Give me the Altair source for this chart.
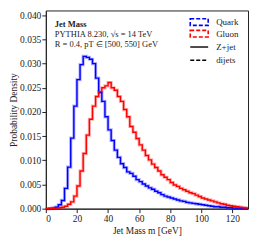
import altair as alt
import pandas as pd

bin_starts = list(range(0, 130, 2))
bin_end = 130

quark = [0.0, 0.00003, 0.0001, 0.0003, 0.0008, 0.0017, 0.0042, 0.0086, 0.0146, 0.0212,
         0.0267, 0.0298, 0.0315, 0.0313, 0.0309, 0.0300, 0.0270, 0.0240, 0.0222, 0.0190,
         0.0163, 0.0141, 0.0121, 0.0106, 0.0093, 0.0085, 0.0076, 0.0073, 0.0067, 0.0060,
         0.0056, 0.0051, 0.0047, 0.0043, 0.0040, 0.0036, 0.0033, 0.0029, 0.0026, 0.0024,
         0.0022, 0.0020, 0.0018, 0.0016, 0.0015, 0.0013, 0.0012, 0.0011, 0.0010, 0.0009,
         0.0008, 0.0007, 0.0006, 0.0005, 0.0004, 0.0004, 0.0003, 0.0003, 0.0002, 0.0002,
         0.0001, 0.0001, 0.0001, 0.00005, 0.00003]

gluon = [0.0, 0.00002, 0.00005, 0.0001, 0.0002, 0.0003, 0.0005, 0.0009, 0.0014, 0.0026,
         0.0047, 0.0078, 0.0114, 0.0152, 0.0185, 0.0212, 0.0232, 0.0242, 0.0250, 0.0254,
         0.0261, 0.0250, 0.0245, 0.0232, 0.0222, 0.0205, 0.0190, 0.0170, 0.0158, 0.0145,
         0.0132, 0.0121, 0.0110, 0.0101, 0.0092, 0.0085, 0.0078, 0.0070, 0.0065, 0.0060,
         0.0054, 0.0049, 0.0046, 0.0042, 0.0039, 0.0036, 0.0033, 0.0031, 0.0028, 0.0025,
         0.0022, 0.0020, 0.0018, 0.0016, 0.0014, 0.0012, 0.0010, 0.0009, 0.0007, 0.0006,
         0.0005, 0.0004, 0.0003, 0.0002, 0.0001]

series_names = ["Quark", "Gluon"]
series_colors = ["#0000ff", "#ff0000"]
legend_labels = ["Quark", "Gluon", "Z+jet", "dijets"]

rows = []
for name, vals in zip(series_names, [quark, gluon]):
    for x, v in zip(bin_starts, vals):
        rows.append({"series": name, "m": x, "density": v})
    rows.append({"series": name, "m": bin_end, "density": vals[-1]})
df = pd.DataFrame(rows)

FONT = "Liberation Serif"
W, H = 203, 199

color = alt.Color("series:N", scale=alt.Scale(domain=series_names, range=series_colors), legend=None)
xenc = alt.X("m:Q", scale=alt.Scale(domain=[0, 130], nice=False),
             axis=alt.Axis(values=[0, 20, 40, 60, 80, 100, 120], title="Jet Mass m [GeV]"))
yenc = alt.Y("density:Q", scale=alt.Scale(domain=[0, 0.041], nice=False),
             axis=alt.Axis(values=[0, 0.005, 0.01, 0.015, 0.02, 0.025, 0.03, 0.035, 0.04],
                           format=".3f", title="Probability Density"))

base = alt.Chart(df)
halo = base.mark_line(interpolate="step-after", strokeWidth=3.2, opacity=0.3).encode(
    x=xenc, y=yenc, color=color, detail="series:N")
main = base.mark_line(interpolate="step-after", strokeWidth=1.4).encode(
    x=xenc, y=yenc, color=color, detail="series:N")

def txt(s, x, y, size=8.5, weight="normal", align="left", style="normal"):
    return alt.Chart(pd.DataFrame({"t": [s]})).mark_text(
        align=align, baseline="middle", font=FONT, fontSize=size, fontWeight=weight,
        fontStyle=style, color="#222").encode(x=alt.value(x), y=alt.value(y), text="t:N")

ann = [
    txt("Jet Mass", 9, 13.5, size=8.5, weight="bold"),
    txt("PYTHIA 8.230, √s = 14 TeV", 9, 24, size=8.5),
    txt("R = 0.4, pT ∈ [500, 550] GeV", 9, 34, size=8.5),
]

leg_rows = [11.7, 23.3, 36.7, 50.0]
lx0, lx1, ltx = 145, 163, 171
boxes = []
for i, c in enumerate(series_colors):
    y = leg_rows[i]
    boxes.append(alt.Chart(pd.DataFrame({"k": [i]})).mark_rect(
        fill=None, fillOpacity=0, stroke=c, strokeWidth=1.6, strokeDash=[4, 2]).encode(
        x=alt.value(lx0), x2=alt.value(lx1), y=alt.value(y - 3.3), y2=alt.value(y + 3.3)))
rules = [
    alt.Chart(pd.DataFrame({"k": [0]})).mark_rule(color="black", strokeWidth=1.4).encode(
        x=alt.value(lx0), x2=alt.value(lx1), y=alt.value(leg_rows[2])),
    alt.Chart(pd.DataFrame({"k": [1]})).mark_rule(color="black", strokeWidth=1.4, strokeDash=[4, 2]).encode(
        x=alt.value(lx0), x2=alt.value(lx1), y=alt.value(leg_rows[3])),
]
leg_text = [txt(lab, ltx, leg_rows[i], size=9) for i, lab in enumerate(legend_labels)]

chart = alt.layer(halo, main, *ann, *boxes, *rules, *leg_text).properties(
    width=W, height=H,
    autosize=alt.AutoSizeParams(type="none"),
    padding={"left": 38, "top": 2, "right": 4, "bottom": 28},
).configure_view(stroke="#222", strokeWidth=1).configure_axis(
    grid=False, labelFont=FONT, titleFont=FONT, labelFontSize=9.5, titleFontSize=9.5,
    titleFontWeight="normal", labelColor="#222", titleColor="#222",
    domainColor="#222", tickColor="#222", tickSize=4, labelPadding=1,
).configure_axisY(titlePadding=1).configure_axisX(titlePadding=2)

chart.save("out.html", embed_options={"renderer": "svg", "actions": False})
